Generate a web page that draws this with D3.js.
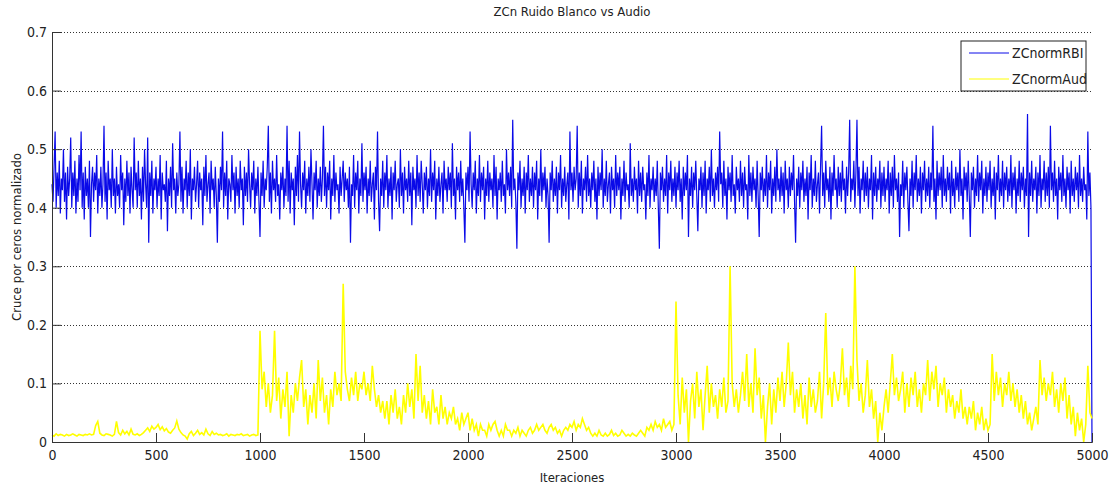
<!DOCTYPE html>
<html>
<head>
<meta charset="utf-8">
<script src="https://cdn.jsdelivr.net/npm/d3@7"></script>
<style>
  body { margin: 0; background: #fff; }
  text { font-family: "Liberation Sans Narrow", "DejaVu Sans Condensed", "Liberation Sans", sans-serif; fill: #222; }
</style>
</head>
<body>
<div id="chart"></div>
<script>
// iteration spacing of the samples read for each series
const stepRBI = 5;
const stepAud = 10;

// ZCnormRBI, values at iterations 0,5,...,4995, 5000
const zcRBI = [
  .44,.41,.47,.53,.40,.46,.42,.48,.39,.45,.43,.50,.41,.46,.38,.47,.42,.45,.52,.40,
  .46,.42,.48,.39,.45,.41,.49,.43,.53,.40,.46,.38,.47,.42,.45,.40,.48,.35,.44,.47,
  .41,.46,.43,.49,.39,.45,.42,.47,.40,.44,.54,.41,.46,.38,.48,.43,.45,.40,.50,.42,
  .45,.39,.47,.42,.44,.40,.49,.43,.46,.37,.45,.41,.48,.42,.46,.39,.47,.43,.40,.52,
  .43,.46,.40,.48,.42,.45,.38,.47,.41,.50,.44,.40,.52,.34,.46,.42,.48,.39,.45,.43,
  .47,.40,.45,.42,.49,.38,.46,.43,.44,.41,.48,.36,.45,.42,.47,.40,.51,.43,.45,.39,
  .46,.42,.44,.53,.41,.47,.39,.45,.43,.48,.40,.46,.42,.50,.38,.45,.43,.47,.41,.44,
  .48,.40,.46,.43,.45,.37,.47,.42,.49,.41,.44,.46,.39,.48,.43,.45,.40,.47,.42,.34,
  .45,.41,.47,.43,.53,.40,.46,.42,.48,.38,.45,.44,.41,.49,.43,.46,.39,.47,.42,.45,
  .40,.48,.43,.45,.37,.47,.42,.46,.41,.50,.44,.40,.46,.43,.48,.39,.45,.42,.47,.41,
  .35,.46,.42,.48,.40,.45,.43,.47,.54,.41,.46,.39,.48,.43,.45,.41,.49,.42,.44,.38,
  .46,.43,.47,.40,.45,.42,.54,.41,.48,.39,.46,.43,.45,.37,.47,.42,.49,.41,.53,.44,
  .40,.46,.43,.48,.39,.45,.42,.47,.41,.50,.44,.38,.46,.43,.48,.40,.45,.42,.47,.41,
  .45,.54,.42,.47,.40,.46,.43,.48,.38,.45,.42,.49,.41,.46,.43,.44,.39,.47,.42,.45,
  .48,.41,.46,.43,.45,.40,.47,.34,.44,.42,.49,.40,.46,.43,.48,.39,.45,.42,.51,.41,
  .46,.43,.47,.39,.45,.42,.48,.41,.44,.46,.38,.47,.43,.53,.41,.36,.45,.42,.48,.40,
  .46,.43,.49,.40,.45,.42,.47,.38,.46,.43,.48,.41,.44,.45,.40,.50,.42,.46,.39,.47,
  .43,.45,.41,.48,.42,.46,.37,.47,.43,.45,.40,.49,.42,.46,.41,.48,.44,.39,.46,.43,
  .47,.40,.45,.42,.50,.41,.46,.43,.48,.38,.45,.42,.47,.41,.44,.46,.39,.48,.43,.45,
  .41,.47,.43,.46,.40,.51,.42,.45,.38,.47,.43,.46,.41,.48,.42,.45,.40,.34,.46,.43,
  .47,.41,.53,.44,.40,.46,.43,.48,.39,.45,.42,.49,.41,.46,.43,.47,.38,.45,.42,.48,
  .41,.46,.43,.45,.40,.49,.42,.47,.38,.45,.43,.46,.41,.48,.42,.44,.39,.50,.43,.46,
  .42,.47,.40,.55,.43,.45,.41,.33,.46,.43,.48,.40,.45,.42,.47,.39,.46,.43,.49,.41,
  .45,.42,.47,.40,.46,.43,.48,.38,.45,.42,.50,.41,.46,.43,.47,.40,.45,.42,.34,.46,
  .43,.48,.41,.45,.42,.47,.39,.46,.43,.49,.40,.45,.42,.47,.41,.44,.46,.38,.53,.43,
  .46,.41,.47,.43,.45,.54,.40,.46,.42,.48,.39,.45,.43,.47,.41,.49,.42,.45,.40,.46,
  .43,.48,.41,.45,.38,.47,.42,.46,.43,.50,.40,.45,.42,.48,.41,.44,.46,.39,.47,.43,
  .45,.40,.49,.42,.46,.43,.47,.38,.45,.42,.48,.41,.46,.43,.44,.40,.51,.42,.45,.41,
  .47,.43,.45,.39,.48,.42,.46,.41,.47,.43,.44,.38,.46,.42,.49,.40,.45,.43,.47,.41,
  .45,.42,.48,.40,.33,.46,.43,.47,.41,.45,.42,.49,.39,.46,.43,.48,.41,.45,.42,.47,
  .40,.46,.43,.48,.41,.45,.38,.47,.42,.46,.43,.49,.35,.45,.42,.47,.40,.46,.43,.48,
  .42,.36,.45,.43,.47,.40,.46,.42,.48,.39,.45,.43,.47,.41,.50,.42,.45,.40,.46,.43,
  .47,.41,.53,.44,.46,.40,.48,.42,.45,.38,.47,.43,.46,.41,.49,.42,.44,.39,.47,.43,
  .45,.41,.48,.42,.46,.40,.47,.43,.44,.38,.49,.42,.46,.41,.47,.43,.45,.40,.48,.42,
  .35,.46,.43,.47,.41,.45,.42,.49,.40,.46,.43,.48,.39,.45,.42,.47,.41,.50,.43,.45,
  .41,.47,.42,.46,.39,.48,.43,.45,.40,.47,.42,.46,.43,.49,.41,.34,.45,.42,.47,.40,
  .46,.43,.48,.41,.45,.42,.47,.38,.46,.43,.49,.40,.45,.42,.48,.41,.44,.46,.39,.47,
  .54,.42,.46,.40,.48,.43,.45,.41,.47,.38,.46,.42,.49,.43,.45,.40,.47,.42,.46,.41,
  .48,.43,.45,.39,.47,.42,.46,.55,.41,.45,.43,.48,.40,.46,.55,.42,.47,.39,.45,.43,
  .48,.41,.46,.42,.47,.40,.45,.43,.49,.38,.46,.42,.47,.41,.45,.43,.48,.40,.46,.42,
  .47,.41,.45,.43,.48,.39,.46,.42,.47,.40,.49,.43,.45,.41,.46,.35,.44,.42,.48,.40,
  .46,.43,.47,.41,.36,.45,.42,.48,.40,.46,.43,.49,.41,.45,.42,.47,.39,.46,.43,.48,
  .41,.45,.42,.47,.40,.46,.43,.54,.41,.45,.38,.48,.42,.46,.43,.47,.40,.49,.42,.45,
  .41,.47,.43,.46,.39,.48,.42,.45,.40,.47,.43,.46,.41,.50,.42,.45,.38,.47,.43,.46,
  .41,.48,.42,.35,.46,.43,.47,.40,.45,.42,.49,.41,.46,.43,.48,.39,.45,.42,.47,.41,
  .46,.43,.48,.40,.45,.42,.47,.38,.46,.43,.49,.41,.45,.42,.48,.40,.46,.43,.47,.41,
  .45,.42,.49,.40,.46,.43,.47,.39,.45,.42,.48,.41,.46,.43,.47,.40,.45,.42,.56,.35,
  .46,.42,.48,.41,.45,.43,.47,.39,.46,.42,.49,.40,.45,.43,.48,.41,.46,.42,.47,.40,
  .54,.43,.46,.41,.48,.42,.45,.38,.47,.43,.46,.41,.49,.42,.45,.40,.47,.43,.46,.39,
  .48,.42,.45,.41,.47,.43,.46,.40,.49,.42,.45,.41,.47,.43,.44,.38,.53,.42,.46,.40,
  0
];

// ZCnormAud, values at iterations 0,10,...,4990, 5000
const zcAud = [
  .012,.010,.014,.011,.013,.012,.010,.013,.011,.012,.014,.012,.010,.013,.012,.011,.013,.012,.014,.012,
  .013,.028,.035,.015,.012,.011,.014,.013,.012,.010,.013,.035,.016,.012,.020,.014,.018,.012,.022,.013,
  .012,.014,.011,.013,.016,.020,.024,.018,.027,.022,.025,.030,.021,.026,.019,.023,.017,.015,.020,.024,
  .036,.022,.016,.012,.010,.005,.014,.018,.011,.015,.020,.013,.016,.012,.022,.014,.011,.018,.013,.015,
  .012,.013,.011,.012,.014,.010,.013,.012,.011,.013,.012,.014,.011,.012,.013,.010,.012,.013,.011,.012,
  .19,.09,.12,.06,.10,.05,.08,.19,.07,.11,.04,.09,.06,.12,.01,.08,.05,.10,.07,.11,
  .14,.06,.09,.03,.08,.05,.10,.04,.14,.07,.11,.05,.08,.03,.09,.06,.12,.08,.10,.07,
  .27,.12,.09,.07,.11,.08,.12,.07,.10,.09,.12,.08,.10,.07,.13,.09,.06,.08,.05,.07,
  .04,.07,.03,.08,.05,.09,.04,.06,.03,.08,.05,.10,.06,.09,.04,.15,.07,.13,.05,.08,
  .04,.07,.03,.09,.05,.06,.03,.08,.04,.06,.03,.05,.04,.06,.03,.04,.02,.05,.03,.04,
  .05,.02,.04,.02,.03,.01,.03,.02,.02,.01,.03,.02,.03,.035,.02,.01,.02,.01,.03,.02,
  .02,.01,.02,.015,.025,.01,.02,.015,.01,.02,.025,.015,.02,.03,.02,.025,.03,.02,.015,.025,
  .03,.02,.025,.015,.02,.01,.02,.025,.02,.03,.025,.035,.02,.03,.025,.04,.03,.02,.025,.015,
  .01,.015,.01,.02,.012,.01,.015,.01,.013,.02,.011,.015,.01,.012,.02,.015,.01,.013,.01,.015,
  .012,.01,.015,.02,.015,.01,.025,.02,.03,.02,.035,.025,.03,.02,.04,.025,.03,.035,.02,.03,
  .24,.08,.03,.11,.05,.09,0,.07,.10,.04,.12,.06,.09,.02,.08,.13,.05,.10,.06,.08,
  .04,.09,.06,.11,.05,.07,.30,.10,.06,.09,.05,.08,.12,.07,.15,.06,.10,.05,.16,.08,
  .11,.04,.08,0,.06,.10,.03,.09,.05,.11,.07,.12,.06,.10,.17,.08,.12,.05,.09,.06,
  .10,.04,.08,.03,.11,.06,.09,.05,.07,.12,.04,.10,.22,.08,.11,.06,.12,.09,.07,.10,
  .16,.08,.11,.06,.13,.09,.30,.14,.07,.10,.05,.08,.14,.06,.09,.04,.07,0,.05,.02,
  .06,.09,.05,.10,.15,.08,.11,.07,.09,.12,.05,.10,.06,.11,.08,.12,.06,.09,.05,.10,
  .08,.14,.07,.12,.09,.13,.06,.10,.08,.11,.05,.09,.06,.08,.04,.07,.05,.09,.04,.06,
  .03,.06,.04,.07,.02,.05,.03,.06,.02,.04,.02,.03,.15,.07,.12,.08,.11,.06,.10,.08,
  .12,.07,.10,.06,.09,.05,.08,.04,.07,.03,.05,.02,.04,.06,.03,.14,.08,.11,.07,.10,
  .08,.12,.06,.09,.05,.10,.07,.11,.04,.08,.03,.06,.01,.05,.02,.04,0,.03,.13,.05,
  .04
];

const xTicks = [0, 500, 1000, 1500, 2000, 2500, 3000, 3500, 4000, 4500, 5000];
const yTicks = [0, 0.1, 0.2, 0.3, 0.4, 0.5, 0.6, 0.7];
const seriesNames = ["ZCnormRBI", "ZCnormAud"];
const seriesColors = ["#0a0ae8", "#ffff00"];

const width = 1111, height = 486;
const margin = {top: 32, right: 19, bottom: 44, left: 52};

const svg = d3.select("#chart")
  .append("svg")
  .attr("width", width)
  .attr("height", height);

const x = d3.scaleLinear()
  .domain([0, 5000])
  .range([margin.left, width - margin.right]);

const y = d3.scaleLinear()
  .domain([0, 0.7])
  .range([height - margin.bottom, margin.top]);

// dotted horizontal grid
svg.append("g")
  .selectAll("line")
  .data(yTicks.slice(1))
  .join("line")
  .attr("x1", x(0))
  .attr("x2", x(5000))
  .attr("y1", d => Math.round(y(d)) + 0.5)
  .attr("y2", d => Math.round(y(d)) + 0.5)
  .attr("stroke", "#333")
  .attr("stroke-width", 1)
  .attr("stroke-dasharray", "1,2");

const lineRBI = d3.line()
  .x((d, i) => x(i * stepRBI))
  .y(d => y(d));

const lineAud = d3.line()
  .x((d, i) => x(i * stepAud))
  .y(d => y(d));

svg.append("path")
  .datum(zcRBI)
  .attr("fill", "none")
  .attr("stroke", seriesColors[0])
  .attr("stroke-width", 1.2)
  .attr("d", lineRBI);

svg.append("path")
  .datum(zcAud)
  .attr("fill", "none")
  .attr("stroke", seriesColors[1])
  .attr("stroke-width", 1.6)
  .attr("d", lineAud);

// axes with inward ticks like MATLAB
const xAxis = svg.append("g")
  .attr("transform", `translate(0,${y(0)})`)
  .call(d3.axisBottom(x).tickValues(xTicks).tickSize(-9).tickPadding(14).tickFormat(d3.format("d")));

const yAxis = svg.append("g")
  .attr("transform", `translate(${x(0)},0)`)
  .call(d3.axisLeft(y).tickValues(yTicks).tickSize(-9).tickPadding(14).tickFormat(d => d === 0 ? "0" : d3.format(".1f")(d)));

[xAxis, yAxis].forEach(g => {
  g.select(".domain").attr("stroke", "#333");
  g.selectAll(".tick line").attr("stroke", "#333");
  g.selectAll("text").style("font-size", "14px").attr("fill", "#333");
});
yAxis.selectAll("text").attr("x", -5);
xAxis.selectAll("text").attr("y", 8);

// titles
svg.append("text")
  .attr("x", (x(0) + x(5000)) / 2)
  .attr("y", 16)
  .attr("text-anchor", "middle")
  .style("font-size", "13px")
  .text("ZCn Ruido Blanco vs Audio");

svg.append("text")
  .attr("x", (x(0) + x(5000)) / 2)
  .attr("y", 482)
  .attr("text-anchor", "middle")
  .style("font-size", "13px")
  .text("Iteraciones");

svg.append("text")
  .attr("transform", `translate(21,${(y(0) + y(0.7)) / 2}) rotate(-90)`)
  .attr("text-anchor", "middle")
  .style("font-size", "13px")
  .text("Cruce por ceros normalizado");

// legend
const legend = svg.append("g").attr("transform", "translate(961,41)");
legend.append("rect")
  .attr("width", 125)
  .attr("height", 50)
  .attr("fill", "#fff")
  .attr("stroke", "#222");
seriesNames.forEach((name, i) => {
  legend.append("line")
    .attr("x1", 8).attr("x2", 48)
    .attr("y1", 12 + i * 26).attr("y2", 12 + i * 26)
    .attr("stroke", seriesColors[i])
    .attr("stroke-width", 1);
  legend.append("text")
    .attr("x", 51)
    .attr("y", 17 + i * 26)
    .style("font-size", "14px")
    .text(name);
});
</script>
</body>
</html>
